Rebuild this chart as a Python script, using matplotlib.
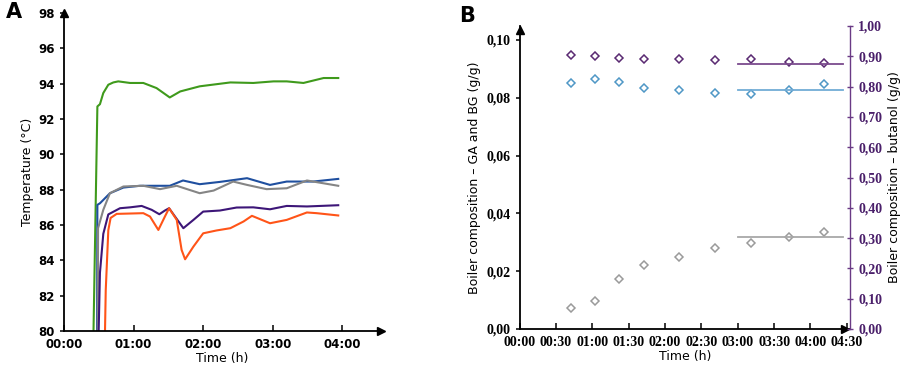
import numpy as np
import matplotlib.pyplot as plt

# ---- panel A: boiler temperatures (time in hours) ----
t_green = [0.42, 0.48, 0.517, 0.565, 0.637, 0.709, 0.78, 0.95, 1.14, 1.33, 1.52, 1.67, 1.95, 2.39, 2.72, 3.01, 3.2, 3.44, 3.73, 3.94]
T_green = [79.0, 92.71, 92.84, 93.47, 93.94, 94.07, 94.13, 94.04, 94.04, 93.75, 93.22, 93.56, 93.85, 94.07, 94.04, 94.13, 94.13, 94.04, 94.32, 94.32]

t_blue = [0.475, 0.48, 0.517, 0.661, 0.853, 1.09, 1.52, 1.71, 1.95, 2.24, 2.63, 2.96, 3.2, 3.58, 3.94]
T_blue = [79.0, 87.14, 87.23, 87.80, 88.12, 88.22, 88.22, 88.52, 88.31, 88.44, 88.65, 88.27, 88.46, 88.46, 88.61]

t_gray = [0.485, 0.49, 0.565, 0.66, 0.853, 1.14, 1.38, 1.62, 1.95, 2.15, 2.43, 2.63, 2.91, 3.2, 3.49, 3.94]
T_gray = [79.0, 85.82, 86.86, 87.80, 88.18, 88.22, 88.03, 88.22, 87.80, 87.95, 88.46, 88.27, 88.03, 88.08, 88.52, 88.22]

t_purple = [0.493, 0.517, 0.565, 0.637, 0.805, 0.949, 1.116, 1.26, 1.37, 1.45, 1.51, 1.595, 1.715, 1.86, 2.0, 2.24, 2.48, 2.72, 2.96, 3.2, 3.49, 3.94]
T_purple = [79.0, 83.3, 85.5, 86.6, 86.95, 87.0, 87.08, 86.86, 86.61, 86.82, 86.95, 86.48, 85.82, 86.29, 86.76, 86.82, 86.99, 87.0, 86.89, 87.08, 87.05, 87.12]

t_orange = [0.585, 0.60, 0.637, 0.67, 0.757, 1.14, 1.236, 1.356, 1.45, 1.51, 1.62, 1.69, 1.74, 1.86, 2.0, 2.19, 2.39, 2.58, 2.70, 2.96, 3.2, 3.49, 3.63, 3.94]
T_orange = [79.0, 82.3, 85.7, 86.4, 86.63, 86.67, 86.48, 85.72, 86.48, 86.95, 86.29, 84.59, 84.06, 84.78, 85.53, 85.69, 85.82, 86.2, 86.52, 86.10, 86.29, 86.71, 86.67, 86.54]

a_xticks = [0, 1, 2, 3, 4]
a_xlabels = ['00:00', '01:00', '02:00', '03:00', '04:00']
a_yticks = [80, 82, 84, 86, 88, 90, 92, 94, 96, 98]

# ---- panel B: boiler composition ----
t_samp = [0.70, 1.03, 1.36, 1.71, 2.19, 2.69, 3.18, 3.70, 4.18]
butanol = [0.905, 0.900, 0.893, 0.892, 0.890, 0.888, 0.892, 0.880, 0.879]
ga = [0.0850, 0.0866, 0.0853, 0.0834, 0.0826, 0.0815, 0.0813, 0.0826, 0.0847]
bg = [0.0074, 0.0097, 0.0173, 0.0221, 0.0250, 0.0279, 0.0296, 0.0320, 0.0336]
t_avg = [3.0, 4.45]
butanol_avg = 0.875
ga_avg = 0.0828
bg_avg = 0.0317

b_xticks = [0, 0.5, 1, 1.5, 2, 2.5, 3, 3.5, 4, 4.5]
b_xlabels = ['00:00', '00:30', '01:00', '01:30', '02:00', '02:30', '03:00', '03:30', '04:00', '04:30']
b_yticks = [0.0, 0.02, 0.04, 0.06, 0.08, 0.10]
b_ylabels = ['0,00', '0,02', '0,04', '0,06', '0,08', '0,10']
b_y2ticks = [0.0, 0.1, 0.2, 0.3, 0.4, 0.5, 0.6, 0.7, 0.8, 0.9, 1.0]
b_y2labels = ['0,00', '0,10', '0,20', '0,30', '0,40', '0,50', '0,60', '0,70', '0,80', '0,90', '1,00']

fig = plt.figure(figsize=(9.06, 3.78), dpi=100)

# ---------------- A ----------------
axA = fig.add_axes([0.0706, 0.1243, 0.3496, 0.8413])
axA.plot(t_green, T_green, color='#3f9a1c', lw=1.5)
axA.plot(t_blue, T_blue, color='#1f4f9f', lw=1.5)
axA.plot(t_gray, T_gray, color='#858585', lw=1.5)
axA.plot(t_purple, T_purple, color='#3d1678', lw=1.5)
axA.plot(t_orange, T_orange, color='#ff5418', lw=1.5)
axA.set_xlim(0, 4.55)
axA.set_ylim(80, 98)
axA.spines['top'].set_visible(False)
axA.spines['right'].set_visible(False)
for s in ['left', 'bottom']:
    axA.spines[s].set_linewidth(1.3)
axA.set_xticks(a_xticks)
axA.set_xticklabels(a_xlabels, fontsize=8.5, fontweight='bold')
axA.set_yticks(a_yticks)
axA.set_yticklabels([str(v) for v in a_yticks], fontsize=8.5, fontweight='bold')
axA.tick_params(axis='x', direction='in', length=4, width=1.1, pad=5)
axA.tick_params(axis='y', direction='out', length=3, width=1.1)
axA.plot(1, 80, '>k', ms=6, transform=axA.get_yaxis_transform(), clip_on=False)
axA.plot(0, 1, '^k', ms=6, transform=axA.transAxes, clip_on=False)
axA.set_xlabel('Time (h)', fontsize=9, labelpad=1)
axA.set_ylabel('Temperature (°C)', fontsize=9, labelpad=3)
fig.text(0.006, 0.952, 'A', fontsize=15, fontweight='bold')

# ---------------- B ----------------
serif = 'Liberation Serif'
axB = fig.add_axes([0.5736, 0.1296, 0.3643, 0.8016])
axB.set_xlim(0, 4.54)
axB.set_ylim(0, 0.10484)
axB.plot(t_samp, ga, 'D', mfc='white', mec='#4f97c6', ms=4.5, mew=1.1, ls='none')
axB.plot(t_samp, bg, 'D', mfc='white', mec='#9a9a9a', ms=4.5, mew=1.1, ls='none')
axB.plot(t_avg, [ga_avg, ga_avg], color='#72acd6', lw=1.3)
axB.plot(t_avg, [bg_avg, bg_avg], color='#a8a8a8', lw=1.3)
axB.spines['top'].set_visible(False)
axB.spines['right'].set_visible(False)
for s in ['left', 'bottom']:
    axB.spines[s].set_linewidth(1.3)
axB.set_xticks(b_xticks)
axB.set_xticklabels(b_xlabels, fontsize=10, fontweight='bold', family=serif)
axB.set_yticks(b_yticks)
axB.set_yticklabels(b_ylabels, fontsize=10, fontweight='bold', family=serif)
axB.tick_params(axis='x', direction='in', length=4, width=1.1, pad=5)
axB.tick_params(axis='y', direction='out', length=3, width=1.1)
axB.plot(4.48, 0, '>k', ms=6, clip_on=False)
axB.plot(0, 0.1035, '^k', ms=6, clip_on=False)
axB.set_xlabel('Time (h)', fontsize=9, labelpad=1)
axB.set_ylabel('Boiler composition – GA and BG (g/g)', fontsize=9, labelpad=4)

axB2 = axB.twinx()
axB2.set_ylim(0, 1.0)
axB2.plot(t_samp, butanol, 'D', mfc='white', mec='#5a2a72', ms=4.5, mew=1.1, ls='none')
axB2.plot(t_avg, [butanol_avg, butanol_avg], color='#7b4b8e', lw=1.3)
for s in ['top', 'left', 'bottom']:
    axB2.spines[s].set_visible(False)
axB2.spines['right'].set_color('#6a3a85')
axB2.spines['right'].set_linewidth(1.0)
axB2.set_yticks(b_y2ticks)
axB2.set_yticklabels(b_y2labels, fontsize=10, fontweight='bold', family=serif, color='#4a1f6a')
axB2.tick_params(axis='y', direction='inout', length=5, width=1.0, color='#6a3a85')
axB2.set_ylabel('Boiler composition – butanol (g/g)', fontsize=9, labelpad=4)
fig.text(0.507, 0.942, 'B', fontsize=15, fontweight='bold')

fig.savefig('out.png', dpi=100)
